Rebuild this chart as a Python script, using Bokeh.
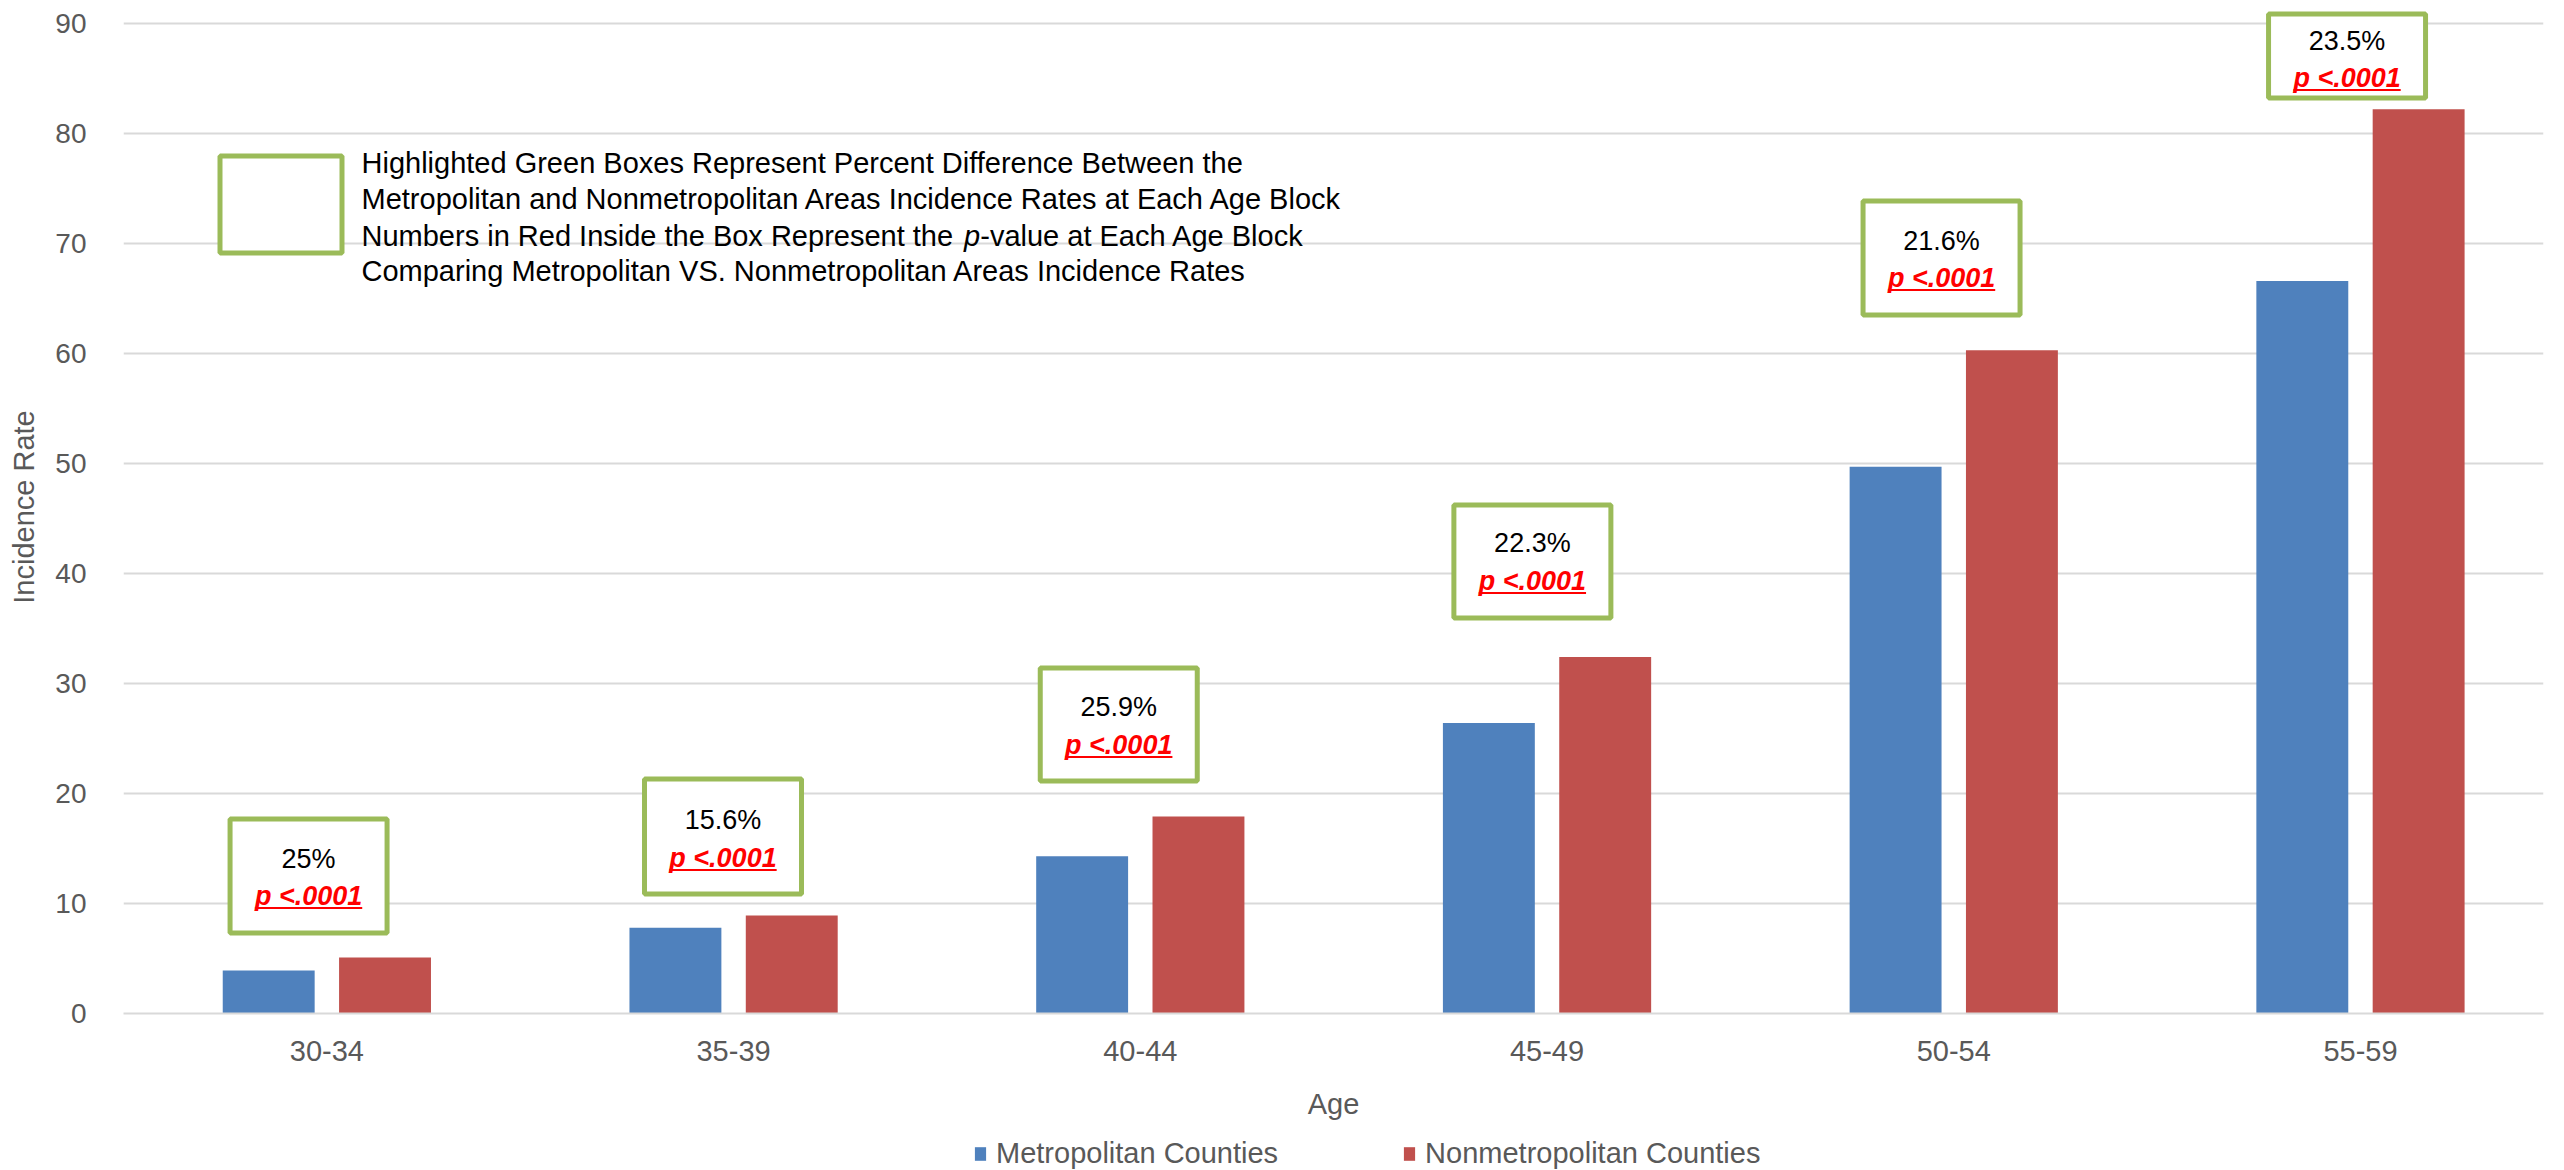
import numpy as np
from bokeh.plotting import figure
from bokeh.layouts import column
from bokeh.models import Range1d, FixedTicker, Legend, LegendItem, Label, BoxAnnotation
from bokeh.core.properties import value
from bokeh.embed import file_html
from bokeh.resources import INLINE

# ---------------- data ----------------
ages = ["30-34", "35-39", "40-44", "45-49", "50-54", "55-59"]
metro = [3.9, 7.8, 14.3, 26.4, 49.7, 66.6]
nonmetro = [5.1, 8.9, 17.9, 32.4, 60.3, 82.2]
pct_diff = ["25%", "15.6%", "25.9%", "22.3%", "21.6%", "23.5%"]
p_values = ["p <.0001", "p <.0001", "p <.0001", "p <.0001", "p <.0001", "p <.0001"]
series_names = ["Metropolitan Counties", "Nonmetropolitan Counties"]
y_ticks = [0, 10, 20, 30, 40, 50, 60, 70, 80, 90]

# annotation-box layout (category offset, top/bottom in data units)
box_dx = [-0.045, -0.026, -0.053, -0.036, -0.030, -0.033]
box_top = [17.68, 21.32, 31.41, 46.23, 73.86, 90.86]
box_bottom = [7.32, 10.86, 21.14, 35.95, 63.50, 83.23]
box_pad = [42, 44, 42, 41, 42, 29]   # px from box top to first text line

# ---------------- layout ----------------
FIG_W = 2564
LEG_H = 36
MAIN_H = 1170 - LEG_H
B_LEFT, B_RIGHT, B_TOP = 123, 21, 0
FRAME_H = 1013
B_BOTTOM = MAIN_H - FRAME_H
FRAME_W = FIG_W - B_LEFT - B_RIGHT
X_START, X_END = -0.5, 5.45
PXX = FRAME_W / (X_END - X_START)
PXY = 11.0
Y_END = FRAME_H / PXY

FONT = "Liberation Sans"
GRAY = "#595959"
GREEN = "#9BBB59"
BLUE = "#4F81BD"
RED = "#C0504D"

# Arial / Liberation Sans advance widths (per 1000 em)
AW = {' ': 278, '%': 889, '-': 333, '.': 278, '<': 584}
for ch in "0123456789":
    AW[ch] = 556
AW.update(dict(zip("ABCDEFGHIJKLMNOPQRSTUVWXYZ",
                   [667, 667, 722, 722, 667, 611, 778, 722, 278, 500, 667, 556, 833,
                    722, 778, 667, 778, 722, 667, 611, 722, 667, 944, 667, 667, 611])))
AW.update(dict(zip("abcdefghijklmnopqrstuvwxyz",
                   [556, 556, 500, 556, 556, 278, 556, 556, 222, 222, 500, 222, 833,
                    556, 556, 556, 556, 333, 500, 278, 556, 500, 722, 500, 500, 500])))
AWB = dict(AW)
AWB.update({'p': 611})


def text_w(s, size, table=AW):
    return sum(table.get(c, 556) for c in s) / 1000.0 * size


def rx(px):  # canvas-pixel x -> data x
    return X_START + (px - B_LEFT) / PXX


def ry(py):  # canvas-pixel y -> data y
    return (B_TOP + FRAME_H - py) / PXY


p = figure(width=FIG_W, height=MAIN_H, output_backend="svg", toolbar_location=None,
           x_range=Range1d(X_START, X_END), y_range=Range1d(0, Y_END),
           min_border_left=B_LEFT, min_border_right=B_RIGHT,
           min_border_top=B_TOP, min_border_bottom=B_BOTTOM)
p.outline_line_color = None
p.background_fill_color = "white"
p.border_fill_color = "white"

idx = np.arange(len(ages))
BAR_W = 0.226
OFF = 0.143
p.vbar(x=idx - OFF, top=metro, width=BAR_W, bottom=0, fill_color=BLUE, line_color=None)
p.vbar(x=idx + OFF, top=nonmetro, width=BAR_W, bottom=0, fill_color=RED, line_color=None)

# axes
p.xaxis.ticker = FixedTicker(ticks=list(idx))
p.xaxis.major_label_overrides = {int(i): a for i, a in zip(idx, ages)}
p.xaxis.major_label_text_font = FONT
p.xaxis.major_label_text_font_size = "29px"
p.xaxis.major_label_text_color = GRAY
p.xaxis.major_label_standoff = 21
p.xaxis.major_tick_line_color = None
p.xaxis.minor_tick_line_color = None
p.xaxis.axis_line_color = "#D9D9D9"
p.xaxis.axis_line_width = 2
p.xaxis.axis_label = "Age"
p.xaxis.axis_label_text_font = FONT
p.xaxis.axis_label_text_font_size = "29px"
p.xaxis.axis_label_text_font_style = "normal"
p.xaxis.axis_label_text_color = GRAY
p.xaxis.axis_label_standoff = 24

p.yaxis.ticker = FixedTicker(ticks=y_ticks)
p.yaxis.major_label_text_font = FONT
p.yaxis.major_label_text_font_size = "28px"
p.yaxis.major_label_text_color = GRAY
p.yaxis.major_label_standoff = 31
p.yaxis.major_tick_line_color = None
p.yaxis.minor_tick_line_color = None
p.yaxis.axis_line_color = None
p.yaxis.axis_label = "Incidence Rate"
p.yaxis.axis_label_text_font = FONT
p.yaxis.axis_label_text_font_size = "29px"
p.yaxis.axis_label_text_font_style = "normal"
p.yaxis.axis_label_text_color = GRAY
p.yaxis.axis_label_standoff = 12

p.xgrid.grid_line_color = None
p.ygrid.grid_line_color = "#D9D9D9"
p.ygrid.grid_line_width = 2

# annotation boxes
bx = idx + np.array(box_dx)
half = (157 / 2.0) / PXX
p.quad(left=bx - half, right=bx + half, top=box_top, bottom=box_bottom,
       fill_color="white", line_color=GREEN, line_width=5)
pad = np.array(box_pad, dtype=float)
p.text(x=bx, y=box_top, text=pct_diff, y_offset=pad - 2.5,
       text_align="center", text_baseline="middle",
       text_font=value(FONT), text_font_size="27px", text_color="black")
p.text(x=bx, y=box_top, text=p_values, y_offset=pad + 35,
       text_align="center", text_baseline="middle",
       text_font=value(FONT), text_font_size="27px", text_font_style="bold italic",
       text_color="#FF0000")
uw = np.array([text_w(s, 27, AWB) for s in p_values]) / PXX
uy = np.array(box_top) - (pad + 47) / PXY
p.segment(x0=bx - uw / 2, x1=bx + uw / 2, y0=uy, y1=uy, line_color="#FF0000", line_width=2)

# key box + explanation text
p.add_layout(BoxAnnotation(left=rx(219.5), right=rx(341.5), top=ry(155.5), bottom=ry(252.5),
                           fill_color="white", fill_alpha=1.0, line_color=GREEN,
                           line_alpha=1.0, line_width=5))
lines = ["Highlighted Green Boxes Represent Percent Difference Between the",
         "Metropolitan and Nonmetropolitan Areas Incidence Rates at Each Age Block",
         None,
         "Comparing Metropolitan VS. Nonmetropolitan Areas Incidence Rates"]
line_y = [162, 198, 235, 270.5]
TX = 361
for t, yy in zip(lines, line_y):
    if t is None:
        continue
    p.add_layout(Label(x=rx(TX), y=ry(yy), text=t, text_font=FONT, text_font_size="29px",
                       text_color="black", text_baseline="middle", text_align="left"))
pre = "Numbers in Red Inside the Box Represent the "
post = "-value at Each Age Block"
x_p = TX + text_w(pre, 29) + 3
x_post = x_p + text_w("p", 29)
p.add_layout(Label(x=rx(TX), y=ry(235), text=pre, text_font=FONT, text_font_size="29px",
                   text_color="black", text_baseline="middle", text_align="left"))
p.add_layout(Label(x=rx(x_p), y=ry(235), text="p", text_font=FONT, text_font_size="29px",
                   text_font_style="italic",
                   text_color="black", text_baseline="middle", text_align="left"))
p.add_layout(Label(x=rx(x_post), y=ry(235), text=post, text_font=FONT, text_font_size="29px",
                   text_color="black", text_baseline="middle", text_align="left"))

# legend strip (own small figure so the legend is not clipped by the main frame)
leg = figure(width=FIG_W, height=LEG_H, output_backend="svg", toolbar_location=None,
             x_axis_type=None, y_axis_type=None,
             x_range=Range1d(0, 1), y_range=Range1d(0, 1),
             min_border_left=B_LEFT, min_border_right=B_RIGHT,
             min_border_top=0, min_border_bottom=0)
leg.outline_line_color = None
leg.background_fill_color = "white"
leg.border_fill_color = "white"
leg.xgrid.grid_line_color = None
leg.ygrid.grid_line_color = None
# key renderers kept below the visible range: only their legend swatches show
k_metro = leg.vbar(x=[0.5], top=[-2], bottom=[-3], width=0.1, fill_color=BLUE, line_color=None)
k_non = leg.vbar(x=[0.5], top=[-2], bottom=[-3], width=0.1, fill_color=RED, line_color=None)
legend = Legend(items=[LegendItem(label=series_names[0], renderers=[k_metro]),
                       LegendItem(label=series_names[1], renderers=[k_non])],
                location=(973 - B_LEFT, 0), orientation="horizontal",
                glyph_width=14, glyph_height=17, label_standoff=9, spacing=124,
                padding=0, margin=0, border_line_color=None, background_fill_alpha=0,
                label_text_font=FONT, label_text_font_size="29px", label_text_color=GRAY)
leg.add_layout(legend)

layout = column(p, leg, spacing=0)
open("out.html", "w").write(file_html(layout, INLINE))
